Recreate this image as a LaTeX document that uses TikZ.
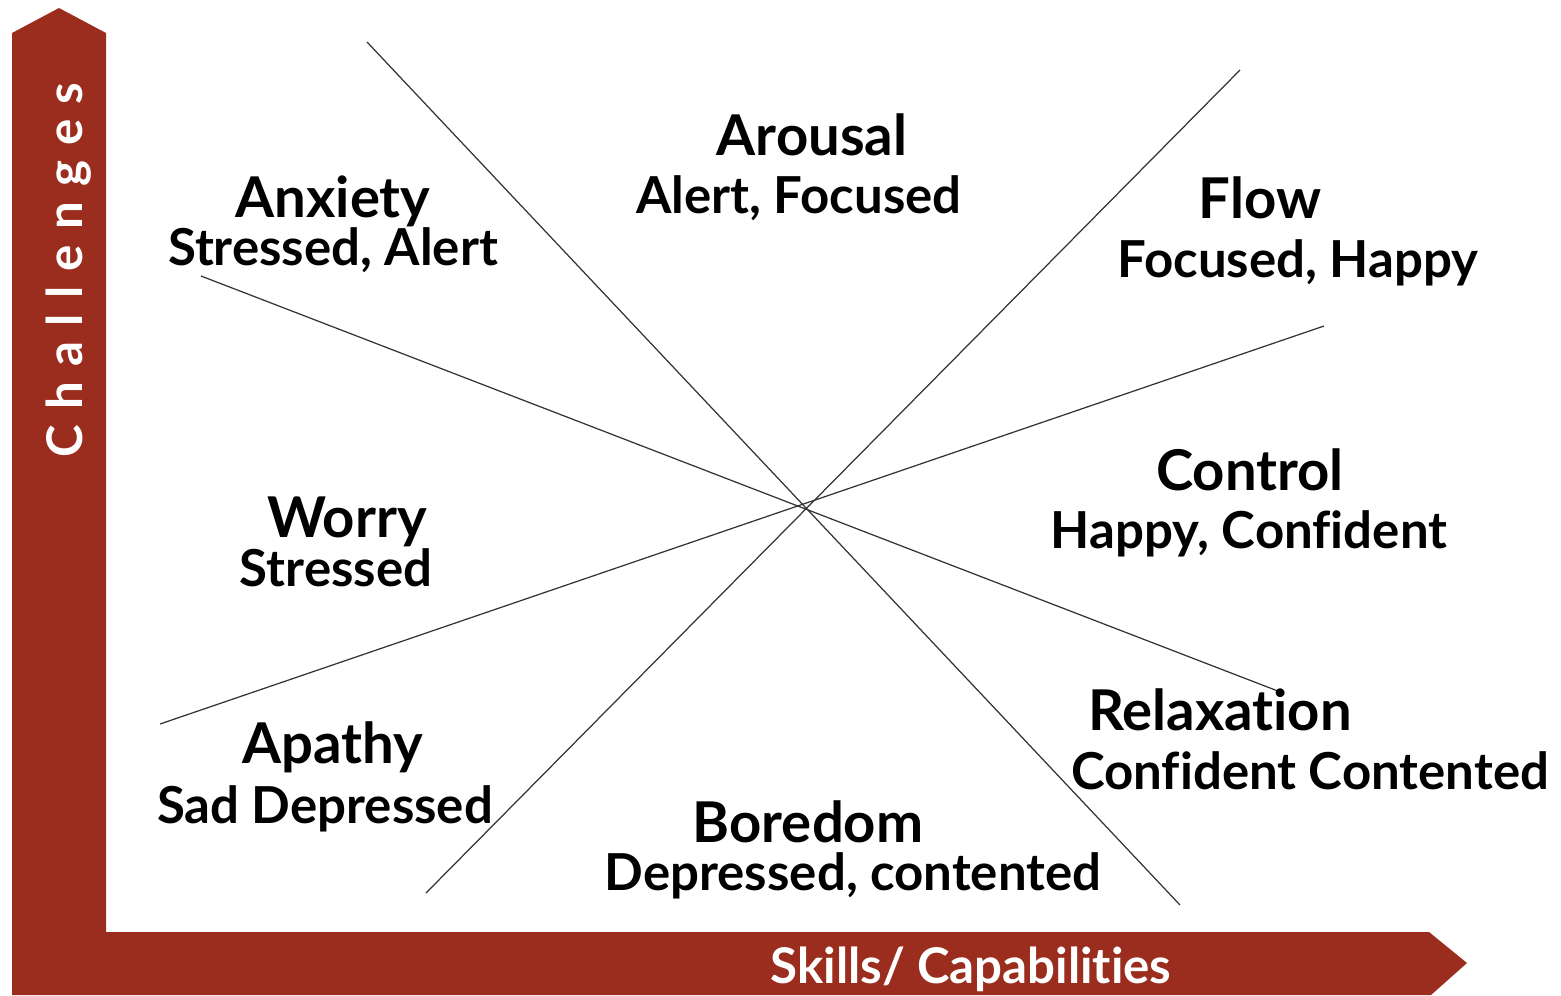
\documentclass[tikz,border=0pt]{standalone}
\usepackage{fontspec}
\setmainfont{Lato}[Ligatures=NoCommon]
\definecolor{axisred}{HTML}{9B2D1F}
\tikzset{
  mood/.style={font=\fontsize{16}{18}\selectfont\bfseries, anchor=base, inner sep=0pt},
  feel/.style={font=\fontsize{14.5}{16}\selectfont\bfseries, anchor=base, inner sep=0pt},
  axislabel/.style={font=\fontsize{14}{16}\selectfont\bfseries, text=white, anchor=base, inner sep=0pt},
  split/.style={draw=black!80, line width=0.35pt}
}
\begin{document}
\begin{tikzpicture}[x=0.1mm,y=-0.1mm]
  \useasboundingbox (0,0) rectangle (1561,995);

  % the two axes as one filled arrow shape
  \fill[axisred] (12,33) -- (59,8) -- (106,33) -- (106,932) -- (1429,932)
    -- (1467,963) -- (1431,995) -- (12,995) -- cycle;
  \node[axislabel, rotate=90] (challenges) at (82,270)
    {\addfontfeature{LetterSpace=31}Challenges};
  \node[axislabel] (skills) at (971,983) {Skills/ Capabilities};

  % crossing lines
  \coordinate (a1) at (367,42);   \coordinate (a2) at (1180,905);
  \coordinate (b1) at (1240,70);  \coordinate (b2) at (426,893);
  \coordinate (c1) at (201,276);  \coordinate (c2) at (1283,693);
  \coordinate (d1) at (1324,326); \coordinate (d2) at (160,724);
  \draw[split] (a1) -- (a2);
  \draw[split] (b1) -- (b2);
  \draw[split] (c1) -- (c2);
  \draw[split] (d1) -- (d2);

  % states
  \node[mood] (arousal) at (812,155) {Arousal};
  \node[feel] (arousal-f) at (799,213) {Alert, Focused};
  \node[mood] (anxiety) at (333,217) {Anxiety};
  \node[feel] (anxiety-f) at (333,265) {Stressed, Alert};
  \node[mood] (flow) at (1260,218) {Flow};
  \node[feel] (flow-f) at (1298,277) {Focused, Happy};
  \node[mood] (control) at (1250,490) {Control};
  \node[feel] (control-f) at (1249,548) {Happy, Confident};
  \node[mood] (worry) at (347,537) {Worry};
  \node[feel] (worry-f) at (336,586) {Stressed};
  \node[mood] (apathy) at (333,763) {Apathy};
  \node[feel] (apathy-f) at (325,823) {Sad Depressed};
  \node[mood] (relax) at (1220,730) {Relaxation};
  \node[feel] (relax-f) at (1310,789) {Confident Contented};
  \node[mood] (boredom) at (808,842) {Boredom};
  \node[feel] (boredom-f) at (853,890) {Depressed, contented};
\end{tikzpicture}
\end{document}
